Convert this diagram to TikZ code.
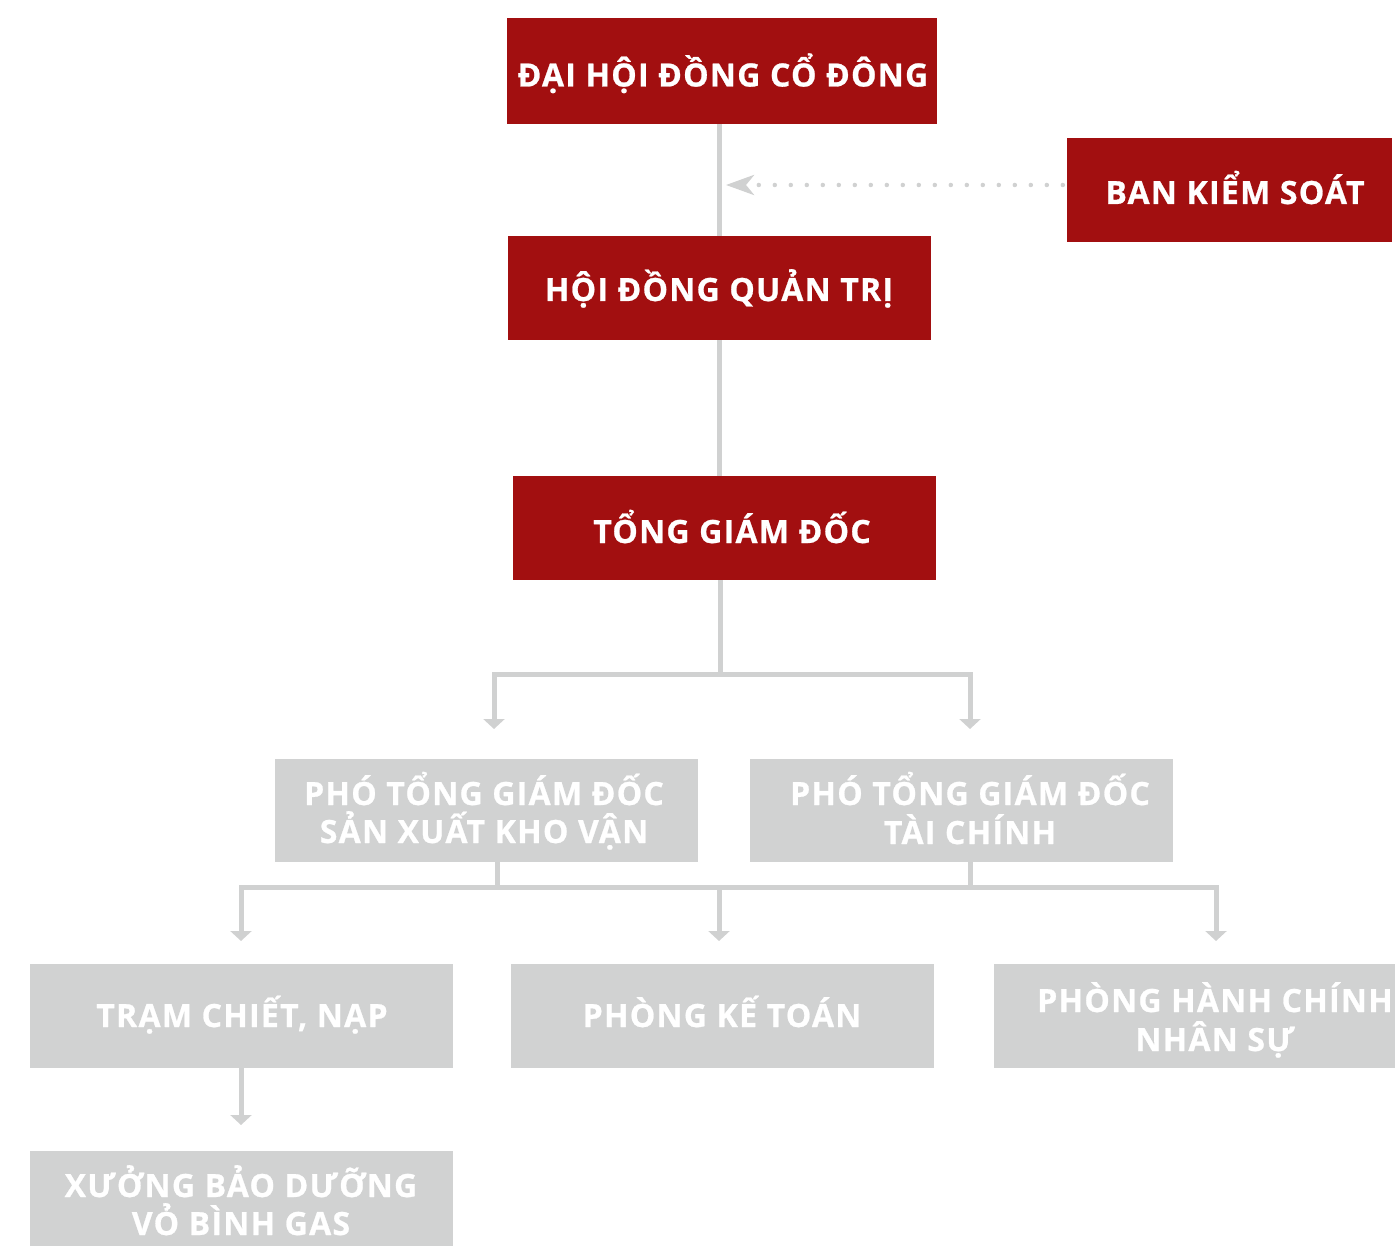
\documentclass[tikz,border=0pt]{standalone}
\usepackage{fontspec}
\setmainfont{Open Sans}[LetterSpace=4, BoldFeatures={FakeBold=0.8}]
\usetikzlibrary{arrows.meta}
\definecolor{boxred}{HTML}{A20F10}
\definecolor{boxgray}{HTML}{D1D2D2}
\definecolor{linegray}{HTML}{D0D1D1}
\begin{document}
\begin{tikzpicture}[x=1pt,y=-1pt,
  redbox/.style={fill=boxred, draw=none, inner sep=0pt, minimum width=423pt, minimum height=104pt},
  graybox/.style={fill=boxgray, draw=none, inner sep=0pt, minimum width=423pt, minimum height=104pt},
  txt/.style={font=\fontsize{32}{38}\selectfont\bfseries, text=white, inner sep=0pt, anchor=base},
  conn/.style={draw=linegray, line width=5pt},
  arr/.style={conn, -{Triangle[length=10pt,width=21pt]}},
  dotline/.style={draw=linegray, line width=4.5pt, line cap=round, dash pattern=on 0pt off 16pt,
    -{Stealth[length=28pt,width=20pt,inset=8pt]}}
]
\useasboundingbox (0,0) rectangle (1395,1246);
% boxes
\node[redbox, minimum width=430pt, minimum height=106pt] (dh) at (722,71) {};
\node[redbox, minimum width=325pt] (bk) at (1229.5,190) {};
\node[redbox] (hd) at (719.5,288) {};
\node[redbox] (tg) at (724.5,528) {};
\node[graybox, minimum height=103pt] (p1) at (486.5,810.5) {};
\node[graybox, minimum height=103pt] (p2) at (961.5,810.5) {};
\node[graybox] (tr) at (241.5,1016) {};
\node[graybox] (pk) at (722.5,1016) {};
\node[graybox] (ph) at (1205.5,1016) {};
\node[graybox] (xu) at (241.5,1203) {};
% texts
\node[txt] (dht) at (723,86.5) {ĐẠI HỘI ĐỒNG CỔ ĐÔNG};
\node[txt] (bkt) at (1235,204) {BAN KIỂM SOÁT};
\node[txt] (hdt) at (719,301) {HỘI ĐỒNG QUẢN TRỊ};
\node[txt] (tgt) at (732,543) {TỔNG GIÁM ĐỐC};
\node[txt] (p1a) at (484,805) {PHÓ TỔNG GIÁM ĐỐC};
\node[txt] (p1b) at (484,843) {SẢN XUẤT KHO VẬN};
\node[txt] (p2a) at (970,805) {PHÓ TỔNG GIÁM ĐỐC};
\node[txt] (p2b) at (970,844) {TÀI CHÍNH};
\node[txt] (trt) at (242,1027) {TRẠM CHIẾT, NẠP};
\node[txt] (pkt) at (722,1027) {PHÒNG KẾ TOÁN};
\node[txt] (pha) at (1215,1012) {PHÒNG HÀNH CHÍNH};
\node[txt] (phb) at (1215,1051) {NHÂN SỰ};
\node[txt] (xua) at (241,1197) {XƯỞNG BẢO DƯỠNG};
\node[txt] (xub) at (241,1235) {VỎ BÌNH GAS};
% connectors
\draw[conn] (hd.north) -- (hd.north |- dh.south);
\draw[conn] (hd.south) -- (hd.south |- tg.north);
\coordinate (j1) at (720,674);
\coordinate (a1) at (494,729);
\coordinate (a2) at (970,729);
\draw[conn] (tg.south -| j1) -- (j1);
\draw[arr] (j1) -| (a1);
\draw[arr] (j1) -| (a2);
\coordinate (j2) at (497,887);
\coordinate (j3) at (970,887);
\coordinate (b1) at (241,941);
\coordinate (b2) at (719,941);
\coordinate (b3) at (1216,941);
\draw[conn] (p1.south -| j2) -- (j2);
\draw[conn] (p2.south -| j3) -- (j3);
\draw[conn] (j2) -- (j3);
\draw[arr] (j2) -| (b1);
\draw[arr] (j3) -| (b3);
\draw[arr] (b2 |- j2) -- (b2);
\coordinate (b4) at (241,1125);
\draw[arr] (tr.south -| b4) -- (b4);
% dotted arrow
\coordinate (tip) at (726,185);
\draw[dotline] ([xshift=-4pt]bk.west |- tip) -- (tip);
\end{tikzpicture}
\end{document}
